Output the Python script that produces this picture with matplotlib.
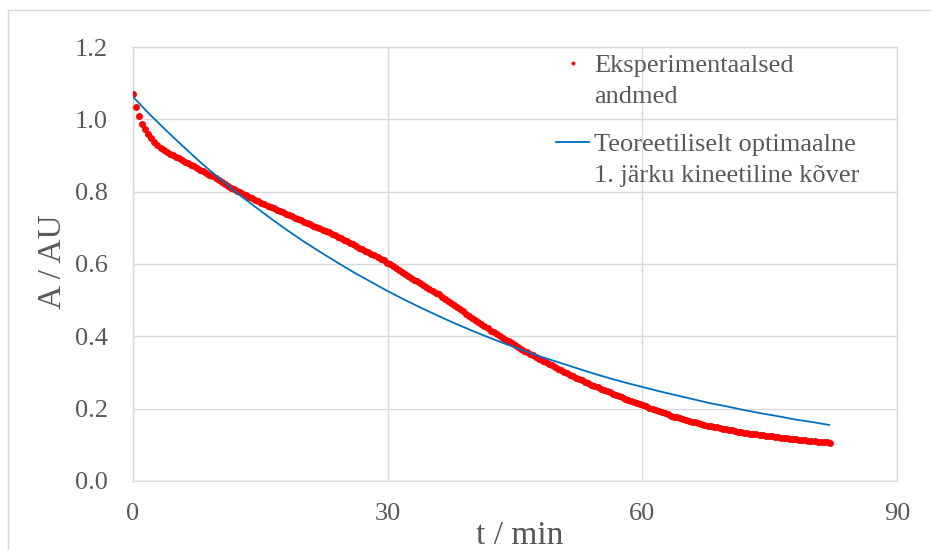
import numpy as np
import matplotlib
matplotlib.use("Agg")
import matplotlib.pyplot as plt
from matplotlib.patches import Rectangle

plt.rcParams['font.family'] = ['Liberation Serif', 'DejaVu Serif']

# experimental data, one reading every 0.36 min
dt = 0.36
absorbance = [
    1.069, 1.034, 1.008, 0.988, 0.972, 0.959, 0.948, 0.938, 0.930, 0.922,
    0.914, 0.910, 0.905, 0.901, 0.896, 0.892, 0.8875, 0.883, 0.879, 0.8745,
    0.870, 0.8655, 0.861, 0.856, 0.851, 0.8465, 0.842, 0.837, 0.832, 0.8265,
    0.821, 0.816, 0.811, 0.807, 0.802, 0.798, 0.794, 0.790, 0.786, 0.782,
    0.777, 0.773, 0.769, 0.765, 0.761, 0.758, 0.754, 0.750, 0.747, 0.743,
    0.739, 0.736, 0.732, 0.728, 0.725, 0.721, 0.717, 0.714, 0.710, 0.706,
    0.703, 0.699, 0.695, 0.691, 0.688, 0.684, 0.680, 0.675, 0.671, 0.667,
    0.663, 0.659, 0.654, 0.650, 0.645, 0.641, 0.637, 0.632, 0.628, 0.624,
    0.619, 0.615, 0.610, 0.604, 0.599, 0.594, 0.588, 0.583, 0.578, 0.572,
    0.567, 0.562, 0.557, 0.552, 0.547, 0.542, 0.537, 0.532, 0.526, 0.521,
    0.516, 0.510, 0.504, 0.498, 0.493, 0.487, 0.481, 0.475, 0.469, 0.463,
    0.457, 0.451, 0.446, 0.440, 0.434, 0.428, 0.422, 0.416, 0.411, 0.406,
    0.401, 0.396, 0.391, 0.386, 0.381, 0.376, 0.371, 0.366, 0.360, 0.356,
    0.351, 0.347, 0.342, 0.338, 0.333, 0.329, 0.324, 0.320, 0.315, 0.311,
    0.307, 0.302, 0.298, 0.294, 0.290, 0.286, 0.282, 0.278, 0.274, 0.270,
    0.266, 0.262, 0.259, 0.255, 0.252, 0.248, 0.245, 0.241, 0.238, 0.234,
    0.231, 0.228, 0.224, 0.221, 0.218, 0.215, 0.212, 0.209, 0.206, 0.203,
    0.200, 0.196, 0.193, 0.190, 0.187, 0.184, 0.181, 0.178, 0.176, 0.173,
    0.171, 0.169, 0.167, 0.164, 0.162, 0.160, 0.157, 0.155, 0.153, 0.151,
    0.150, 0.148, 0.146, 0.145, 0.143, 0.141, 0.140, 0.138, 0.136, 0.135,
    0.134, 0.133, 0.131, 0.130, 0.129, 0.128, 0.126, 0.125, 0.124, 0.123,
    0.122, 0.121, 0.120, 0.119, 0.118, 0.117, 0.116, 0.115, 0.114, 0.113,
    0.112, 0.1113, 0.1105, 0.1098, 0.109, 0.1083, 0.1075, 0.1068, 0.106,
]
t_exp = np.arange(len(absorbance)) * dt

# theoretical 1st order curve, read every 2 min
t_fit = list(range(0, 84, 2))
a_fit = [
    1.062, 1.013, 0.967, 0.923, 0.880, 0.840, 0.801, 0.765, 0.730, 0.696,
    0.664, 0.634, 0.605, 0.577, 0.551, 0.525, 0.501, 0.478, 0.456, 0.435,
    0.415, 0.396, 0.378, 0.361, 0.344, 0.329, 0.314, 0.299, 0.285, 0.272,
    0.260, 0.248, 0.237, 0.226, 0.215, 0.206, 0.196, 0.187, 0.179, 0.170,
    0.163, 0.155,
]

lbl_exp = ["Eksperimentaalsed", "andmed"]
lbl_fit = ["Teoreetiliselt optimaalne", "1. järku kineetiline kõver"]

grey = '#595959'
gridc = '#d9d9d9'

fig = plt.figure(figsize=(9.31, 5.5), dpi=100)
ax = fig.add_axes([0.1429, 0.1255, 0.8206, 0.789])

# outer chart border
fig.patches.append(Rectangle((0.009, -0.2), 1.2, 0.9818 + 0.2, transform=fig.transFigure,
                             fill=False, edgecolor=gridc, linewidth=1.0))

ax.plot(t_exp, absorbance, 'o', color='#ff0000', ms=5.0, mec='none', zorder=3)
ax.plot(t_fit, a_fit, '-', color='#0070c0', lw=1.3, zorder=4)

ax.set_xlim(0, 90)
ax.set_ylim(0, 1.2)
ax.set_xticks([0, 30, 60, 90])
ax.set_yticks(np.arange(0, 1.21, 0.2))
ax.set_yticklabels(['%.1f' % v for v in np.arange(0, 1.21, 0.2)])
ax.tick_params(length=0, labelsize=19, colors=grey)
ax.tick_params(axis='y', pad=18)
ax.tick_params(axis='x', pad=16)
ax.grid(True, color=gridc, lw=1.0)
ax.set_axisbelow(True)
for s in ax.spines.values():
    s.set_color(gridc)
    s.set_linewidth(1.0)

fig.text(53 / 931, 1 - 262 / 550, 'A / AU', rotation=90, ha='center', va='center',
         fontsize=24, color=grey)
fig.text(520 / 931, 1 - 536 / 550, 't / min', ha='center', va='center',
         fontsize=24, color=grey)

# legend drawn by hand
ax.plot([0.5763], [0.963], 'o', color='#ff0000', ms=2.8, mec='none',
        transform=ax.transAxes, clip_on=False)
ax.plot([0.5537, 0.5969], [0.780, 0.780], '-', color='#0070c0', lw=1.3,
        transform=ax.transAxes, clip_on=False)
for txt, y in zip(lbl_exp + lbl_fit, [0.943, 0.870, 0.760, 0.690]):
    ax.text(0.6034, y, txt, transform=ax.transAxes, fontsize=19, color=grey,
            ha='left', va='baseline')

fig.savefig('out.png', dpi=100)
